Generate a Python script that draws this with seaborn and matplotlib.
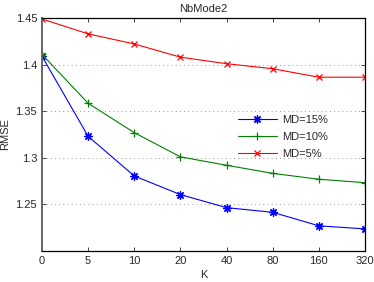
import matplotlib
matplotlib.use("Agg")
import matplotlib.pyplot as plt
import seaborn as sns
import pandas as pd

k_labels = ["0", "5", "10", "20", "40", "80", "160", "320"]
md15 = [1.409, 1.323, 1.2805, 1.2605, 1.2465, 1.2415, 1.227, 1.2237]
md10 = [1.411, 1.3585, 1.327, 1.301, 1.292, 1.2833, 1.277, 1.2733]
md5 = [1.449, 1.433, 1.4222, 1.408, 1.401, 1.3956, 1.3865, 1.3865]
series_names = ["MD=15%", "MD=10%", "MD=5%"]

sns.set_style("ticks")
plt.rcParams["font.family"] = ["Liberation Sans", "DejaVu Sans"]
plt.rcParams["font.size"] = 8

fig = plt.figure(figsize=(3.74, 2.82), dpi=100)
ax = fig.add_axes([0.1123, 0.110, 0.8637, 0.826])

pos = list(range(len(k_labels)))
styles = [
    (md15, "#0000ff", (8, 2, 0), 6),
    (md10, "#008000", "+", 6),
    (md5, "#ff0000", "x", 5),
]
for (vals, col, mk, ms), name in zip(styles, series_names):
    df = pd.DataFrame({"pos": pos, "rmse": vals})
    sns.lineplot(data=df, x="pos", y="rmse", ax=ax, color=col, marker=mk,
                 markersize=ms, linewidth=0.8, markeredgecolor=col,
                 markeredgewidth=0.9, label=name)

ax.set_xlim(0, len(k_labels) - 1)
ax.set_ylim(1.2, 1.45)
ax.set_xticks(pos)
ax.set_xticklabels(k_labels)
ax.set_yticks([1.25, 1.3, 1.35, 1.4, 1.45])
ax.set_yticklabels(["1.25", "1.3", "1.35", "1.4", "1.45"])
ax.yaxis.grid(True, linestyle=(0, (1, 4)), color="#777777", linewidth=0.6)
ax.tick_params(direction="in", length=3, top=True, right=True, labelsize=8, width=0.6)
for s in ax.spines.values():
    s.set_visible(True)
    s.set_linewidth(0.9)
    s.set_color("black")
ax.spines["left"].set_color("#666666")
ax.spines["left"].set_linewidth(1.4)
ax.set_xlabel("K", fontsize=8, labelpad=3)
ax.set_ylabel("RMSE", fontsize=8, labelpad=4)
ax.set_title("NbMode2", fontsize=8, pad=4)
leg = ax.legend(loc="center left", bbox_to_anchor=(0.575, 0.49), frameon=False,
                fontsize=8, handlelength=3.5, labelspacing=0.65, handletextpad=0.5)

fig.savefig("out.png", dpi=100)
